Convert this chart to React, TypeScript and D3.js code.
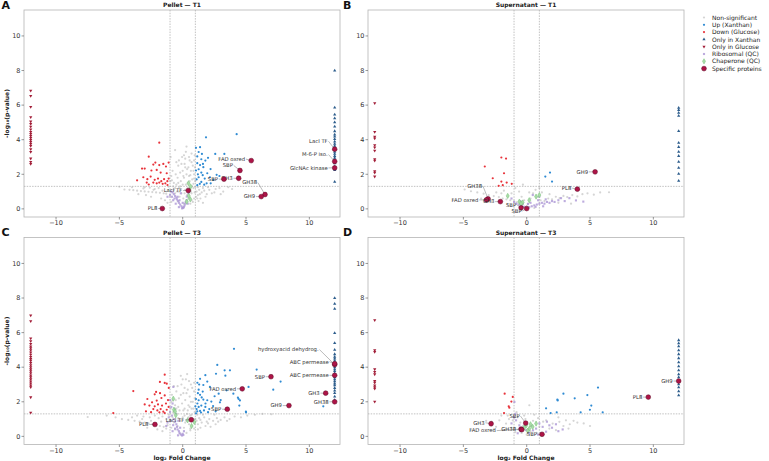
import * as d3 from 'd3'

type Pt = [number, number]
type Spec = [string, number, number]

// proteins seen in one condition only are parked at ±ONLY on the fold-change axis
const ONLY = 12
const SIG_P = -Math.log10(0.05)

const xTicks = [-10, -5, 0, 5, 10]
const yTicks = [0, 2, 4, 6, 8, 10]

// ---- Pellet T1 ----
const pelT1Gray: Pt[] = [
  [-5.0, 1.28], [-4.6, 1.12], [-4.2, 1.1], [-3.9, 1.08], [-3.6, 1.05], [-3.3, 1.03], [-3.0, 1.01], [-2.7, 0.99],
  [-2.4, 0.97], [-2.1, 0.95], [-1.8, 0.93], [-1.5, 0.9], [-1.3, 0.88], [-3.5, 0.85], [-2.9, 0.8], [-2.5, 0.7],
  [-2.2, 1.15], [-1.9, 1.2], [-1.7, 0.6], [-1.4, 0.5], [-1.2, 0.35], [-2.6, 1.22], [-3.1, 1.18], [-1.1, 1.28],
  [-0.98, 1.6], [-0.9, 1.9], [-0.8, 2.2], [-0.7, 1.1], [-0.6, 0.9], [-0.5, 1.4], [-0.4, 1.8], [-0.35, 2.5],
  [-0.3, 1.2], [-0.25, 0.7], [-0.2, 2.1], [-0.15, 1.6], [-0.1, 0.9], [-0.05, 3.0], [0.0, 1.4], [0.0, 2.2],
  [0.05, 0.6], [0.1, 1.8], [0.15, 2.6], [0.2, 1.1], [0.25, 3.3], [0.3, 2.0], [0.35, 0.8], [0.4, 1.5],
  [0.45, 2.4], [0.5, 1.9], [0.55, 2.8], [0.6, 1.3], [0.65, 2.2], [0.7, 0.9], [0.75, 1.7], [0.8, 2.5],
  [0.85, 1.2], [0.9, 2.0], [0.95, 3.1], [0.98, 1.6], [0.97, 2.4], [0.9, 0.6], [0.8, 0.4], [0.6, 0.3],
  [1.1, 1.0], [1.2, 0.8], [1.3, 1.1], [1.4, 0.6], [1.5, 0.95], [1.7, 1.05], [1.9, 0.85], [2.1, 1.1],
  [2.3, 0.9], [2.6, 1.15], [2.9, 1.2], [3.2, 1.0], [3.6, 1.25], [3.9, 1.15], [1.2, 1.25], [1.6, 1.2],
  [2.0, 1.25], [1.25, 0.45], [-0.95, 3.0], [-0.6, 3.4], [0.3, 3.6], [0.7, 3.2], [-0.5, 2.7], [0.2, 2.9],
  [-0.7, 1.5], [0.85, 1.45], [0.5, 1.1], [-0.3, 1.0], [0.1, 0.3], [-0.4, 0.45], [1.05, 0.7], [1.6, 0.35],
  [-0.9, 0.4], [-0.75, 1.3], [-0.55, 2.0], [-0.45, 1.0], [-0.35, 1.5], [-0.1, 2.6], [0.05, 1.9], [0.15, 0.9],
  [0.25, 1.4], [0.35, 2.3], [0.45, 0.6], [0.55, 1.6], [0.65, 1.0], [0.7, 2.7], [0.75, 1.3], [0.85, 2.2],
  [0.9, 1.75], [0.95, 0.95], [0.6, 1.95], [0.4, 1.2], [0.2, 2.4], [-0.2, 1.3], [-0.6, 1.2], [-0.85, 1.65],
  [1.15, 0.6], [1.35, 0.85], [1.8, 0.7], [2.5, 0.95], [3.0, 0.85], [-1.6, 1.05], [-2.3, 1.1], [-1.0, 0.7],
  [-3.0, 1.25], [-4.0, 1.25], [0.5, 3.0], [0.1, 3.1], [-0.3, 2.8], [0.9, 2.8], [1.0, 1.25], [0.7, 0.5],
]
const pelT1Up: Pt[] = [
  [4.26, 4.32], [1.84, 4.14], [1.37, 3.57], [1.05, 3.53], [1.26, 3.29], [1.52, 3.18], [1.15, 3.03], [1.47, 2.87],
  [1.79, 2.79], [1.15, 2.64], [1.37, 2.53], [1.63, 2.41], [1.26, 2.29], [1.05, 2.22], [1.47, 2.1], [1.94, 2.06],
  [1.58, 1.95], [1.26, 1.83], [1.74, 1.75], [2.15, 1.83], [2.42, 1.68], [1.47, 1.56], [1.89, 1.48], [2.21, 1.48],
  [1.15, 1.37], [2.68, 1.97], [2.57, 3.18], [2.0, 2.95], [3.29, 3.18], [2.2, 2.3], [1.1, 1.7], [1.35, 1.45],
  [1.7, 1.4], [2.9, 1.9], [1.2, 2.0], [1.6, 2.6],
]
const pelT1Down: Pt[] = [
  [-1.85, 3.83], [-2.68, 3.02], [-3.21, 2.33], [-3.0, 2.33], [-2.32, 2.56], [-2.16, 2.68], [-1.85, 2.53], [-1.53, 2.6],
  [-1.32, 2.45], [-1.11, 2.68], [-2.47, 2.22], [-2.05, 2.25], [-1.74, 2.1], [-1.26, 2.06], [-3.11, 1.83], [-2.79, 1.72],
  [-2.53, 1.87], [-2.21, 1.68], [-1.95, 1.75], [-1.69, 1.6], [-1.47, 1.72], [-1.21, 1.6], [-2.32, 1.52], [-2.05, 1.48],
  [-1.85, 1.52], [-1.58, 1.45], [-1.37, 1.48], [-1.11, 1.75], [-2.84, 1.52], [-2.68, 1.41], [-3.6, 1.65], [-1.2, 1.38],
]
const pelT1OnlyX = [8.0, 5.86, 5.45, 5.24, 5.0, 4.76, 4.49, 4.3, 4.18, 4.03, 3.89, 3.76, 3.64, 3.53, 3.41, 3.3, 3.18, 3.06, 2.95, 2.83, 2.64, 2.45, 2.25, 1.56]
const pelT1OnlyG = [6.84, 6.53, 5.9, 5.3, 5.05, 4.91, 4.76, 4.6, 4.45, 4.34, 4.22, 4.1, 3.99, 3.87, 3.76, 3.64, 3.45, 3.29, 2.91, 2.72, 2.6]
const pelT1Ribo: Pt[] = [
  [-0.05, 0.03], [0.0, 0.08], [0.05, 0.05], [-0.1, 0.15], [0.1, 0.12], [-0.2, 0.25], [0.15, 0.2], [-0.3, 0.35],
  [0.2, 0.3], [-0.35, 0.45], [0.25, 0.4], [-0.45, 0.55], [0.3, 0.5], [-0.5, 0.65], [-0.6, 0.75], [-0.7, 0.85],
  [-0.8, 0.95], [-0.9, 1.0], [-0.65, 0.6], [-0.4, 0.7], [-0.25, 0.5], [0.0, 0.35], [0.32, 0.71], [0.4, 0.3],
  [-0.55, 0.3], [-0.75, 0.5], [-1.0, 0.81], [-0.15, 0.9], [0.45, 0.9], [-0.3, 0.1], [-1.2, 0.7], [-0.85, 0.7],
]
const pelT1Chap: Pt[] = [[0.46, 1.48], [0.54, 1.1], [0.48, 0.75], [0.32, 0.42], [0.63, 1.29], [0.6, 0.55]]
const pelT1Spec: Spec[] = [
  ['LacI TF', 12, 3.45], ['M-6-P iso.', 12, 2.74], ['GlcNAc kinase', 12, 2.37], ['FAD oxred', 5.41, 2.79],
  ['SBP', 4.52, 2.22], ['GH3', 4.42, 1.77], ['SBP', 3.26, 1.72], ['GH38', 6.5, 0.83], ['GH9', 6.2, 0.71],
  ['LacI TF', 0.44, 1.06], ['PL8', -1.61, 0.02],
]

// ---- Supernatant T1 ----
const supT1Gray: Pt[] = [
  [-4.9, 1.12], [-4.4, 1.02], [-3.9, 0.95], [-3.4, 0.88], [-3.0, 0.8], [-2.6, 0.74], [-2.2, 0.68], [-1.9, 0.6],
  [-1.6, 0.55], [-1.3, 0.5], [-1.0, 0.44], [-0.8, 0.38], [-2.4, 0.95], [-1.8, 1.05], [-1.2, 0.9], [-0.9, 1.2],
  [-0.6, 1.0], [-0.4, 0.7], [-0.2, 0.5], [0.1, 0.3], [0.3, 0.6], [0.5, 0.9], [0.7, 1.1], [0.9, 0.7],
  [1.1, 0.5], [1.4, 0.45], [1.7, 0.6], [2.0, 0.55], [2.3, 0.7], [2.6, 0.62], [2.9, 0.75], [3.2, 0.68],
  [3.6, 0.8], [4.0, 0.72], [4.4, 0.85], [4.8, 0.9], [5.3, 0.82], [5.8, 0.95], [6.5, 0.96], [1.2, 0.95],
  [1.8, 0.85], [2.5, 0.35], [3.5, 0.3], [-1.5, 0.25], [-2.8, 0.45], [0.0, 0.15], [-0.5, 0.1], [0.6, 0.05],
  [1.0, 1.2], [-0.3, 1.4], [-3.6, 0.6], [-2.0, 0.9], [0.2, 0.95],
]
const supT1Up: Pt[] = [[1.84, 2.1], [1.47, 1.87], [2.0, 1.58]]
const supT1Down: Pt[] = [
  [-2.0, 2.97], [-1.63, 2.91], [-3.31, 2.45], [-2.68, 1.77], [-2.0, 1.58], [-1.79, 2.06], [-1.58, 1.52], [-2.21, 1.33],
  [-1.89, 1.37], [-1.18, 1.45],
]
const supT1OnlyX = [5.84, 5.72, 5.55, 5.38, 4.5, 3.82, 3.58, 3.3, 3.06, 2.72, 2.37, 2.02, 1.62]
const supT1OnlyG = [6.11, 4.45, 4.18, 4.07, 3.68, 3.56, 3.37, 2.87, 2.79, 2.18, 2.1, 1.87]
const supT1Ribo: Pt[] = [
  [-1.0, 0.4], [-0.8, 0.3], [-0.6, 0.25], [-0.4, 0.2], [-0.2, 0.12], [0.0, 0.08], [0.2, 0.1], [0.4, 0.15],
  [0.6, 0.2], [0.8, 0.25], [1.0, 0.3], [1.2, 0.35], [1.4, 0.3], [1.6, 0.4], [1.8, 0.35], [2.0, 0.45],
  [2.2, 0.4], [2.5, 0.5], [2.71, 0.62], [3.0, 0.45], [3.37, 0.62], [3.89, 0.49], [4.47, 0.42], [-0.5, 0.45],
  [0.3, 0.35], [0.9, 0.5], [1.5, 0.55], [-1.2, 0.6], [0.48, 0.8], [1.0, 0.71], [0.1, 0.28], [-0.3, 0.3],
  [0.7, 0.12], [1.3, 0.15],
]
const supT1Chap: Pt[] = [[-1.5, 0.75], [-0.58, 0.42], [-0.32, 0.37], [-0.45, 0.3], [1.0, 0.8], [0.74, 0.71], [0.2, 0.5]]
const supT1Spec: Spec[] = [
  ['GH9', 5.4, 2.14], ['PL8', 4.0, 1.14], ['GH38', -3.05, 0.58], ['FAD oxred', -3.18, 0.52], ['GH3', -2.08, 0.42],
  ['SBP', -0.44, 0.06], ['SBP', 0.0, 0.02],
]

// ---- Pellet T3 ----
const pelT3Gray: Pt[] = [
  [-7.5, 1.12], [-6.0, 1.2], [-5.3, 1.1], [-4.8, 1.0], [-4.3, 0.95], [-3.8, 0.9], [-3.4, 0.85], [-3.0, 0.8],
  [-2.7, 0.75], [-2.4, 0.7], [-2.1, 0.65], [-1.8, 0.6], [-1.5, 0.55], [-1.3, 0.45], [-3.6, 1.2], [-3.1, 1.15],
  [-2.6, 1.1], [-2.2, 1.2], [-1.9, 1.05], [-1.6, 1.15], [-1.3, 1.0], [-2.8, 0.5], [-2.0, 0.4], [-1.6, 0.3],
  [-1.1, 1.25], [-0.95, 1.6], [-0.9, 2.0], [-0.85, 2.4], [-0.8, 1.1], [-0.7, 0.8], [-0.6, 1.8], [-0.5, 2.6],
  [-0.45, 1.3], [-0.4, 0.6], [-0.3, 2.2], [-0.25, 1.5], [-0.2, 0.9], [-0.1, 3.0], [-0.05, 1.9], [0.0, 1.1],
  [0.05, 2.5], [0.1, 0.5], [0.15, 1.6], [0.2, 2.1], [0.25, 3.3], [0.3, 0.9], [0.35, 1.3], [0.4, 2.7],
  [0.45, 1.8], [0.5, 0.7], [0.55, 2.3], [0.6, 1.2], [0.65, 3.0], [0.7, 1.6], [0.75, 0.6], [0.8, 2.0],
  [0.85, 1.0], [0.9, 2.6], [0.95, 1.4], [0.98, 0.8], [-0.15, 3.5], [0.35, 3.6], [-0.7, 2.9], [1.1, 0.9],
  [1.2, 0.7], [1.3, 1.05], [1.5, 0.8], [1.7, 1.1], [1.9, 0.85], [2.1, 1.0], [2.4, 0.9], [2.7, 1.05],
  [3.0, 0.95], [3.3, 1.1], [3.7, 1.0], [4.1, 1.15], [4.6, 1.1], [5.1, 1.2], [5.7, 1.25], [6.3, 1.3],
  [7.0, 1.28], [1.4, 0.5], [1.8, 0.6], [2.2, 0.55], [2.6, 0.7], [1.15, 1.25], [1.6, 1.25], [2.5, 1.25],
  [0.3, 0.2], [-0.2, 0.15], [0.6, 0.35], [-0.6, 0.4], [0.9, 0.45], [-0.35, 1.05], [0.15, 1.2],
  [-0.9, 0.5], [-0.75, 1.4], [-0.55, 2.1], [-0.35, 1.7], [-0.15, 2.4], [0.05, 1.5], [0.2, 0.8], [0.3, 2.5],
  [0.45, 1.1], [0.55, 1.7], [0.65, 2.0], [0.75, 2.8], [0.85, 1.6], [0.95, 2.2], [0.7, 1.25], [0.4, 1.5],
  [0.15, 2.8], [-0.25, 1.0], [-0.5, 1.6], [-0.8, 2.1], [1.2, 0.4], [1.4, 0.95], [2.0, 0.75], [2.8, 0.85],
  [3.5, 0.9], [-1.2, 0.65], [-1.7, 0.85], [-2.5, 0.9], [-3.2, 1.0], [-4.0, 1.1], [0.5, 3.2], [0.0, 3.3],
  [-0.4, 2.9], [0.9, 3.1], [1.0, 1.0], [0.6, 0.45],
]
const pelT3Up: Pt[] = [
  [4.05, 5.06], [2.73, 4.13], [3.31, 3.82], [3.37, 3.51], [2.63, 3.62], [1.79, 3.54], [1.94, 3.17], [1.37, 3.33],
  [1.16, 3.1], [1.63, 2.97], [2.15, 2.86], [1.26, 2.7], [1.58, 2.59], [2.84, 2.47], [2.52, 2.32], [1.37, 2.4],
  [1.05, 2.16], [1.26, 2.09], [1.63, 2.13], [1.94, 2.09], [2.26, 2.01], [2.94, 1.97], [1.16, 1.9], [1.47, 1.78],
  [1.79, 1.7], [2.1, 1.58], [1.1, 1.58], [1.37, 1.47], [1.68, 1.5], [1.26, 1.7], [1.0, 1.74], [4.0, 2.47],
  [4.42, 2.16], [4.47, 1.78], [4.99, 1.43], [5.2, 2.86], [3.47, 2.66], [1.05, 1.33], [5.84, 3.86], [7.73, 3.17],
  [7.15, 2.7], [4.36, 2.24], [3.73, 3.82], [11.1, 1.74], [1.2, 2.5], [1.5, 2.25], [1.8, 1.9], [2.4, 1.75],
  [1.15, 1.45], [1.45, 1.38], [2.0, 1.4], [2.6, 1.45], [3.0, 2.1], [1.3, 3.0], [5.0, 1.39], [4.52, 2.08],
]
const pelT3Down: Pt[] = [
  [-3.9, 2.62], [-1.42, 3.09], [-1.26, 3.05], [-2.21, 2.43], [-1.79, 2.5], [-2.79, 2.16], [-2.42, 1.97], [-2.05, 2.07],
  [-1.68, 2.22], [-1.42, 2.37], [-1.16, 2.1], [-3.0, 1.85], [-2.63, 1.78], [-2.21, 1.74], [-1.95, 1.85], [-1.63, 1.78],
  [-1.32, 1.9], [-2.32, 1.58], [-2.0, 1.5], [-1.74, 1.58], [-1.53, 1.43], [-1.26, 1.54], [-1.11, 1.7], [-1.84, 1.39],
  [-1.42, 1.35], [-5.48, 1.35], [-2.1, 2.57], [-1.42, 3.57], [-1.8, 3.15], [-2.9, 1.45], [-2.5, 1.4], [-1.1, 2.8],
]
const pelT3OnlyX = [8.0, 7.66, 7.37, 5.97, 5.39, 5.0, 4.75, 4.6, 4.5, 4.38, 4.25, 4.12, 4.0, 3.88, 3.77, 3.65, 3.53, 3.42, 3.3, 3.18, 3.06, 2.95, 2.8, 2.65, 2.5, 2.3, 2.1, 2.0]
const pelT3OnlyG = [7.0, 6.66, 5.66, 5.5, 5.35, 5.2, 5.1, 4.98, 4.85, 4.72, 4.6, 4.48, 4.37, 4.25, 4.12, 4.0, 3.88, 3.77, 3.65, 3.53, 3.42, 3.3, 3.18, 3.06, 2.95, 2.84, 2.26, 1.37]
const pelT3Ribo: Pt[] = [
  [-0.74, 2.86], [-1.0, 2.1], [-0.8, 1.9], [-0.9, 1.7], [-1.0, 1.41], [-0.85, 1.2], [-0.7, 1.0], [-0.6, 0.85],
  [-0.5, 0.7], [-0.45, 0.55], [-0.4, 0.4], [-0.3, 0.3], [-0.25, 0.2], [-0.15, 0.1], [-0.05, 0.05], [0.05, 0.08],
  [0.0, 0.15], [-0.37, 0.06], [-0.6, 0.45], [-0.75, 0.65], [-0.95, 0.9], [-1.1, 1.1], [-1.2, 0.8], [-0.55, 1.3],
  [-0.65, 1.6], [-0.35, 0.9], [-0.2, 0.5], [0.1, 0.3], [-1.3, 0.6], [-0.8, 0.3],
]
const pelT3Chap: Pt[] = [[-0.74, 2.18], [-0.69, 1.54], [-0.55, 1.22], [0.92, 0.83], [0.39, 0.93], [-0.6, 1.45], [0.7, 0.6]]
const pelT3Spec: Spec[] = [
  ['hydroxyacid dehydrog.', 12, 4.15], ['ABC permease', 12, 4.2], ['ABC permease', 12, 3.53], ['GH3', 11.29, 2.5],
  ['GH38', 12, 2.0], ['SBP', 6.97, 3.45], ['FAD oxred', 4.7, 2.75], ['SBP', 3.52, 1.57], ['GH9', 8.39, 1.78],
  ['LacI TF', 0.68, 0.96], ['PL8', -2.19, 0.69],
]

// ---- Supernatant T3 ----
const supT3Gray: Pt[] = [
  [-3.2, 0.9], [-2.8, 0.85], [-2.42, 0.55], [-2.16, 0.93], [-1.89, 0.36], [-1.63, 0.74], [-1.4, 1.0], [-1.1, 0.93],
  [-1.2, 0.5], [-0.9, 0.25], [-0.7, 1.1], [-0.5, 0.8], [-0.3, 0.6], [-0.1, 1.0], [0.21, 1.8], [0.3, 0.3],
  [0.5, 0.9], [0.8, 0.2], [1.0, 0.55], [1.3, 0.85], [1.53, 0.93], [1.79, 0.45], [2.05, 0.74], [2.31, 0.36],
  [2.58, 0.84], [2.9, 0.6], [3.1, 0.93], [3.4, 0.7], [3.7, 0.9], [4.0, 0.8], [4.5, 0.75], [5.0, 0.6],
  [-2.0, 1.2], [-1.5, 1.2], [0.0, 0.1], [-0.4, 0.2], [1.2, 0.1], [2.5, 1.1], [0.6, 1.25], [-0.8, 1.4],
  [-2.6, 0.4], [-0.2, 1.2], [0.9, 1.05], [3.3, 0.45],
]
const supT3Up: Pt[] = [
  [5.63, 2.82], [2.9, 2.47], [4.79, 2.39], [3.79, 2.2], [2.42, 2.12], [5.1, 1.78], [4.99, 1.54], [1.53, 1.62],
  [4.26, 1.39], [2.37, 1.39], [1.89, 1.35], [6.0, 1.39], [2.45, 2.08],
]
const supT3Down: Pt[] = [[-1.74, 2.47], [-1.1, 2.28], [-1.21, 2.01], [-1.42, 1.74], [-1.37, 1.66], [-1.79, 1.35]]
const supT3OnlyX = [5.56, 5.38, 5.21, 4.98, 4.75, 4.52, 4.28, 4.05, 3.82, 3.59, 3.42, 3.24, 3.01, 2.84, 2.6, 2.37]
const supT3OnlyG = [6.72, 4.98, 4.88, 3.88, 3.73, 3.59, 3.2, 3.11, 2.95, 2.84, 2.76, 2.01]
const supT3Ribo: Pt[] = [
  [-0.97, 1.99], [-0.84, 0.93], [-0.58, 0.64], [-0.71, 0.18], [-0.05, 0.36], [0.74, 0.45], [1.26, 0.55], [1.79, 0.64],
  [2.31, 0.7], [2.84, 0.4], [1.13, 0.18], [1.53, 0.27], [-0.9, 1.3], [-0.3, 0.5], [0.2, 0.2], [0.5, 0.35],
  [1.0, 0.75], [2.0, 0.5], [2.5, 0.3], [-1.0, 1.1], [-0.5, 0.3], [0.4, 0.6], [1.6, 0.85], [-1.2, 0.75], [0.9, 0.1],
]
const supT3Chap: Pt[] = [[-0.05, 0.62], [0.21, 0.45], [0.47, 0.55], [0.08, 0.33], [0.74, 0.74], [0.3, 0.7], [-0.2, 0.5]]
const supT3Spec: Spec[] = [
  ['GH9', 12, 3.2], ['PL8', 9.6, 2.27], ['SBP', -0.08, 0.77], ['GH3', -2.81, 0.73], ['FAD oxred', -0.45, 0.42],
  ['GH38', -0.39, 0.39], ['SBP', 1.21, 0.12],
]

// label placement (px from the point to the label's right end)
const pelT1Nudge: Pt[] = [[-7, -8], [-7, -7], [-7, 0], [-6, -1.5], [-7, -5], [-6, 0], [-6, 0], [-8, -12], [-6, 0], [-6, 0], [-5, 0]]
const supT1Nudge: Pt[] = [[-7, 0], [-6, -1], [-6, -13], [-8, 0], [-6, 0], [-5, -3], [-5, 2.5]]
const pelT3Nudge: Pt[] = [[-16, -15], [-6, -2], [-6, 0], [-6, 0], [-6, 0], [-6, 0], [-6, 0], [-6, 0], [-7, 0], [-7, 0], [-6.5, 0]]
const supT3Nudge: Pt[] = [[-6, 0], [-6, 0], [-6, -7], [-6.5, -1], [-25, 1.5], [-5.7, 0], [-5, 0]]

const COL = {
  gray: '#ababab',
  up: '#2f8bd3',
  down: '#e8333b',
  onlyX: '#2d5d8c',
  onlyG: '#a21e38',
  ribo: '#ad97d6',
  chap: '#7ac27a',
  spec: '#ad1447',
}

const FONT = '"DejaVu Sans", sans-serif'
const PW = 316
const PH = 207

const panels = [
  { letter: 'A', title: 'Pellet — T1', left: 24, top: 10, gray: pelT1Gray, up: pelT1Up, down: pelT1Down, onlyX: pelT1OnlyX, onlyG: pelT1OnlyG, ribo: pelT1Ribo, chap: pelT1Chap, spec: pelT1Spec, nudge: pelT1Nudge, yLab: true, xLab: false },
  { letter: 'B', title: 'Supernatant — T1', left: 368, top: 10, gray: supT1Gray, up: supT1Up, down: supT1Down, onlyX: supT1OnlyX, onlyG: supT1OnlyG, ribo: supT1Ribo, chap: supT1Chap, spec: supT1Spec, nudge: supT1Nudge, yLab: false, xLab: false },
  { letter: 'C', title: 'Pellet — T3', left: 24, top: 237.5, gray: pelT3Gray, up: pelT3Up, down: pelT3Down, onlyX: pelT3OnlyX, onlyG: pelT3OnlyG, ribo: pelT3Ribo, chap: pelT3Chap, spec: pelT3Spec, nudge: pelT3Nudge, yLab: true, xLab: true },
  { letter: 'D', title: 'Supernatant — T3', left: 368, top: 237.5, gray: supT3Gray, up: supT3Up, down: supT3Down, onlyX: supT3OnlyX, onlyG: supT3OnlyG, ribo: supT3Ribo, chap: supT3Chap, spec: supT3Spec, nudge: supT3Nudge, yLab: false, xLab: true },
]

const triUp = d3.symbol(d3.symbolTriangle, 4.5)()
const square = d3.symbol(d3.symbolSquare, 4.5)()
const diamond = d3.symbol(d3.symbolDiamond, 8)()
const fmt = d3.format('d')

function Panel({ p }: { p: (typeof panels)[number] }) {
  const x = d3.scaleLinear().domain([-12.53, 12.42]).range([p.left, p.left + PW])
  const y = d3.scaleLinear().domain([-0.47, 11.5]).range([p.top + PH, p.top])
  const bottom = p.top + PH
  const cx = p.left + PW / 2
  const letterX = p.left < 100 ? 1.5 : p.left - 25

  return (
    <g fontFamily={FONT}>
      <text x={letterX} y={Math.max(p.top - 1.5, 9)} fontSize={11} fontWeight="bold" fill="#111">{p.letter}</text>
      <text x={cx} y={p.top - 3} fontSize={6} fontWeight="bold" textAnchor="middle" fill="#222">{p.title}</text>

      {/* threshold guides */}
      <line x1={x(-1)} x2={x(-1)} y1={p.top} y2={bottom} stroke="#999" strokeWidth={0.6} strokeDasharray="1.5,1.2" />
      <line x1={x(1)} x2={x(1)} y1={p.top} y2={bottom} stroke="#999" strokeWidth={0.6} strokeDasharray="1.5,1.2" />
      <line x1={p.left} x2={p.left + PW} y1={y(SIG_P)} y2={y(SIG_P)} stroke="#999" strokeWidth={0.6} strokeDasharray="1.5,1.2" />

      {p.gray.map((d, i) => (
        <circle key={'g' + i} cx={x(d[0])} cy={y(d[1])} r={1.1} fill={COL.gray} fillOpacity={0.5} />
      ))}
      {p.ribo.map((d, i) => (
        <path key={'r' + i} d={square} transform={`translate(${x(d[0])},${y(d[1])})`} fill={COL.ribo} fillOpacity={0.8} />
      ))}
      {p.chap.map((d, i) => (
        <path key={'c' + i} d={diamond} transform={`translate(${x(d[0])},${y(d[1])})`} fill="#a8dca8" stroke={COL.chap} strokeWidth={0.5} />
      ))}
      {p.up.map((d, i) => (
        <circle key={'u' + i} cx={x(d[0])} cy={y(d[1])} r={1.1} fill={COL.up} />
      ))}
      {p.down.map((d, i) => (
        <circle key={'d' + i} cx={x(d[0])} cy={y(d[1])} r={1.1} fill={COL.down} />
      ))}
      {p.onlyX.map((v, i) => (
        <path key={'ox' + i} d={triUp} transform={`translate(${x(ONLY)},${y(v)})`} fill={COL.onlyX} />
      ))}
      {p.onlyG.map((v, i) => (
        <path key={'og' + i} d={triUp} transform={`translate(${x(-ONLY)},${y(v)}) rotate(180)`} fill={COL.onlyG} />
      ))}

      {p.spec.map((s, i) => {
        const px = x(s[1])
        const py = y(s[2])
        const [dx, dy] = p.nudge[i]
        return (
          <g key={'s' + i}>
            <line x1={px + dx + 0.8} y1={py + dy} x2={px} y2={py} stroke="#777" strokeWidth={0.5} />
            <circle cx={px} cy={py} r={2.4} fill={COL.spec} stroke="#5e0a26" strokeWidth={0.5} />
            <text x={px + dx} y={py + dy} dy="0.35em" fontSize={5.3} textAnchor="end" fill="#333">{s[0]}</text>
          </g>
        )
      })}

      <rect x={p.left} y={p.top} width={PW} height={PH} fill="none" stroke="#b5b5b5" strokeWidth={0.8} />

      {xTicks.map((t) => (
        <g key={'xt' + t}>
          <line x1={x(t)} x2={x(t)} y1={bottom} y2={bottom + 2.5} stroke="#555" strokeWidth={0.6} />
          <text x={x(t)} y={bottom + 8} fontSize={6.5} textAnchor="middle" fill="#333">{fmt(t)}</text>
        </g>
      ))}
      {yTicks.map((t) => (
        <g key={'yt' + t}>
          <line x1={p.left - 2.5} x2={p.left} y1={y(t)} y2={y(t)} stroke="#555" strokeWidth={0.6} />
          <text x={p.left - 3.5} y={y(t)} dy="0.35em" fontSize={6.5} textAnchor="end" fill="#333">{fmt(t)}</text>
        </g>
      ))}

      {p.yLab && (
        <text transform={`translate(${p.left - 15},${p.top + PH / 2}) rotate(-90)`} fontSize={6} fontWeight="bold" textAnchor="middle" fill="#222">
          -log₁₀(p-value)
        </text>
      )}
      {p.xLab && (
        <text x={cx} y={bottom + 15} fontSize={6} fontWeight="bold" textAnchor="middle" fill="#222">
          log₂ Fold Change
        </text>
      )}
    </g>
  )
}

const legendItems = [
  'Non-significant', 'Up (Xanthan)', 'Down (Glucose)', 'Only in Xanthan',
  'Only in Glucose', 'Ribosomal (QC)', 'Chaperone (QC)', 'Specific proteins',
]

function Legend() {
  const x0 = 704
  const y0 = 17.5
  const step = 7.3
  const marker = (i: number) => {
    switch (i) {
      case 0: return <circle r={1.1} fill={COL.gray} fillOpacity={0.5} />
      case 1: return <circle r={1.1} fill={COL.up} />
      case 2: return <circle r={1.1} fill={COL.down} />
      case 3: return <path d={triUp} fill={COL.onlyX} />
      case 4: return <path d={triUp} transform="rotate(180)" fill={COL.onlyG} />
      case 5: return <path d={square} fill={COL.ribo} fillOpacity={0.8} />
      case 6: return <path d={diamond} fill="#a8dca8" stroke={COL.chap} strokeWidth={0.5} />
      default: return <circle r={2.4} fill={COL.spec} stroke="#5e0a26" strokeWidth={0.5} />
    }
  }
  return (
    <g fontFamily={FONT}>
      {legendItems.map((label, i) => (
        <g key={label} transform={`translate(${x0},${y0 + i * step})`}>
          {marker(i)}
          <text x={8} dy="0.35em" fontSize={6} fill="#222">{label}</text>
        </g>
      ))}
    </g>
  )
}

export default function App() {
  return (
    <svg width={769} height={461} style={{ position: 'absolute', left: 0, top: 0, background: '#fff' }}>
      <rect width={769} height={461} fill="#fff" />
      {panels.map((p) => (
        <Panel key={p.letter} p={p} />
      ))}
      <Legend />
    </svg>
  )
}
